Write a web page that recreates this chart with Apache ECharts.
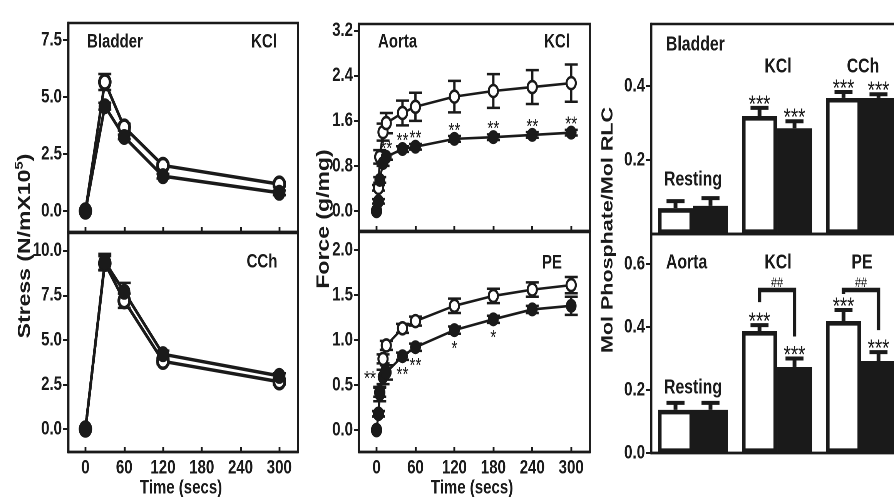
<!DOCTYPE html>
<html>
<head>
<meta charset="utf-8">
<script src="https://cdn.jsdelivr.net/npm/echarts@6.0.0/dist/echarts.min.js"></script>
<style>
  html, body { margin: 0; padding: 0; background: #fff; }
  #wrap { width: 894px; height: 497px; overflow: hidden; }
  /* the figure is horizontally squeezed: draw wide, then compress */
  #chart { width: 1161px; height: 497px; transform: scaleX(0.77); transform-origin: 0 0; }
</style>
</head>
<body>
<div id="wrap"><div id="chart"></div></div>
<script>
// ---------- data ----------
const timeTicks = [0, 60, 120, 180, 240, 300];

// Bladder stress (N/m x 10^5)
const bladderTime = [0, 30, 60, 120, 300];
const bladderKclOpen = [0, 5.66, 3.68, 2.0, 1.18];
const bladderKclOpenErr = [0, 0.35, 0.15, 0.1, 0.1];
const bladderKclFilled = [0, 4.6, 3.25, 1.53, 0.8];
const bladderKclFilledErr = [0, 0.15, 0.1, 0.1, 0.1];
const bladderCchOpen = [0, 9.3, 7.2, 3.8, 2.65];
const bladderCchOpenErr = [0, 0.4, 0.4, 0.15, 0.15];
const bladderCchFilled = [0, 9.38, 7.7, 4.2, 2.98];
const bladderCchFilledErr = [0, 0.45, 0.5, 0.2, 0.15];
const stressKclTicks = [0, 2.5, 5, 7.5];
const stressCchTicks = [0, 2.5, 5, 7.5, 10];

// Aorta force (g/mg)
const aortaTime = [0, 3, 5, 10, 15, 40, 60, 120, 180, 240, 300];
const aortaKclOpen = [0, 0.41, 0.96, 1.4, 1.56, 1.74, 1.85, 2.03, 2.13, 2.2, 2.27];
const aortaKclOpenErr = [0, 0.05, 0.12, 0.15, 0.18, 0.22, 0.25, 0.28, 0.3, 0.3, 0.33];
const aortaKclFilled = [0, 0.17, 0.55, 0.85, 0.96, 1.1, 1.14, 1.28, 1.31, 1.35, 1.39];
const aortaKclFilledErr = [0, 0.04, 0.05, 0.05, 0.05, 0.05, 0.05, 0.05, 0.05, 0.05, 0.05];
const aortaKclStars = ['', '', '', '', '**', '**', '**', '**', '**', '**', '**'];
const aortaPeOpen = [0, 0.18, 0.42, 0.79, 0.94, 1.13, 1.21, 1.38, 1.49, 1.56, 1.61];
const aortaPeOpenErr = [0, 0.03, 0.05, 0.05, 0.05, 0.05, 0.05, 0.08, 0.08, 0.08, 0.09];
const aortaPeFilled = [0, 0.18, 0.4, 0.59, 0.64, 0.82, 0.92, 1.11, 1.23, 1.34, 1.38];
const aortaPeFilledErr = [0, 0.03, 0.08, 0.08, 0.08, 0.04, 0.04, 0.04, 0.04, 0.04, 0.1];
const aortaPeStars = ['', '', '', '**', '', '**', '**', '*', '*', '', ''];
const forceKclTicks = [0, 0.8, 1.6, 2.4, 3.2];
const forcePeTicks = [0, 0.5, 1.0, 1.5, 2.0];

// Mol phosphate / mol RLC
const bladderStim = ['Resting', 'KCl', 'CCh'];
const bladderWhite = [0.07, 0.319, 0.368];
const bladderWhiteErr = [0.019, 0.022, 0.016];
const bladderBlack = [0.076, 0.286, 0.368];
const bladderBlackErr = [0.021, 0.019, 0.01];
const bladderWhiteStars = ['', '***', '***'];
const bladderBlackStars = ['', '***', '***'];
const aortaStim = ['Resting', 'KCl', 'PE'];
const aortaWhite = [0.137, 0.387, 0.419];
const aortaWhiteErr = [0.022, 0.019, 0.035];
const aortaBlack = [0.137, 0.273, 0.292];
const aortaBlackErr = [0.022, 0.027, 0.028];
const aortaWhiteStars = ['', '***', '***'];
const aortaBlackStars = ['', '***', '***'];
const aortaPairMarks = ['', '##', '##'];
const phosBladderTicks = [0.2, 0.4];
const phosAortaTicks = [0, 0.2, 0.4, 0.6];

// ---------- styling ----------
const SX = 0.77;                 // horizontal squeeze applied by CSS
const X = v => v / SX;           // page px -> chart px (horizontal)
const INK = '#1a1a1a';
const FONT = "'Liberation Sans', Arial, sans-serif";
const BAR_W = X(35);

function grid(left, top, width, height) {
  return { left: X(left), top, width: X(width), height, show: true, borderColor: INK, borderWidth: 2.4,
           backgroundColor: 'transparent', outerBoundsMode: 'none' };
}

function timeAxis(gi, labels) {
  return {
    type: 'value', gridIndex: gi, min: -27, max: 329,
    splitLine: { show: false },
    axisLine: { show: true, onZero: false, lineStyle: { color: INK, width: 2.4 } },
    axisTick: { show: true, inside: true, length: 5, customValues: timeTicks, lineStyle: { color: INK, width: 2.4 } },
    axisLabel: { show: labels, customValues: timeTicks, margin: 6, color: INK,
                 fontFamily: FONT, fontWeight: 'bold', fontSize: 19.5 }
  };
}

function valAxis(gi, min, max, ticks) {
  return {
    type: 'value', gridIndex: gi, min, max,
    splitLine: { show: false },
    axisLine: { show: true, onZero: false, lineStyle: { color: INK, width: 2.4 } },
    axisTick: { show: true, inside: false, length: X(5), customValues: ticks, lineStyle: { color: INK, width: 2 } },
    axisLabel: { customValues: ticks, formatter: v => v.toFixed(1), margin: X(6), color: INK,
                 fontFamily: FONT, fontWeight: 'bold', fontSize: 19.5 }
  };
}

function catAxis(gi, cats) {
  return {
    type: 'category', gridIndex: gi, data: cats,
    axisLine: { show: true, onZero: false, lineStyle: { color: INK, width: 2.4 } },
    axisTick: { show: false }, axisLabel: { show: false }
  };
}

function lineSeries(ai, times, vals, open, size, width) {
  return {
    type: 'line', xAxisIndex: ai, yAxisIndex: ai, z: 3, silent: true,
    data: times.map((t, i) => [t, vals[i]]),
    symbol: 'circle', symbolSize: size, showSymbol: true,
    lineStyle: { color: INK, width },
    itemStyle: { color: open ? '#fff' : INK, borderColor: INK, borderWidth: open ? width : 0, opacity: 1 },
    emphasis: { disabled: true }
  };
}

function errSeries(ai, times, vals, errs, cap, width) {
  return {
    type: 'custom', xAxisIndex: ai, yAxisIndex: ai, z: 2, silent: true,
    data: times.map((t, i) => [t, vals[i], errs[i]]),
    renderItem(params, api) {
      const x = api.value(0), v = api.value(1), e = api.value(2);
      if (!e) return { type: 'group', children: [] };
      const hi = api.coord([x, v + e]), lo = api.coord([x, v - e]);
      const st = { stroke: INK, lineWidth: width };
      return { type: 'group', children: [
        { type: 'line', shape: { x1: hi[0], y1: hi[1], x2: lo[0], y2: lo[1] }, style: { stroke: INK, lineWidth: width * 1.2 } },
        { type: 'line', shape: { x1: hi[0] - cap, y1: hi[1], x2: hi[0] + cap, y2: hi[1] }, style: st },
        { type: 'line', shape: { x1: lo[0] - cap, y1: lo[1], x2: lo[0] + cap, y2: lo[1] }, style: st }
      ] };
    }
  };
}

function starText(x, glyphY, s, size) {
  // asterisks sit high in the em box; shift the box so the glyph centre lands on glyphY
  return { type: 'text', x, y: glyphY + size * 0.22,
           style: { text: s, fill: INK, font: size + 'px ' + FONT, align: 'center', verticalAlign: 'middle' } };
}

function starSeries(ai, times, base, stars, place) {
  return {
    type: 'custom', xAxisIndex: ai, yAxisIndex: ai, z: 2, silent: true,
    data: times.map((t, i) => [t, base[i]]),
    renderItem(params, api) {
      const i = params.dataIndex;
      if (!stars[i]) return { type: 'group', children: [] };
      const p = api.coord([api.value(0), api.value(1)]);
      const d = place(i);
      return starText(p[0] + X(d[0]), p[1] + d[1], stars[i], 20);
    }
  };
}

function barSeries(ai, vals, white) {
  return {
    type: 'bar', xAxisIndex: ai, yAxisIndex: ai, z: 2, silent: true,
    data: vals, barWidth: BAR_W, barGap: '0%',
    itemStyle: white ? { color: '#fff', borderColor: INK, borderWidth: 4.6 } : { color: INK },
    emphasis: { disabled: true }
  };
}

function barExtras(ai, white, whiteErr, black, blackErr, whiteStars, blackStars, pairMarks) {
  return {
    type: 'custom', xAxisIndex: ai, yAxisIndex: ai, z: 4, silent: true,
    data: white.map((v, i) => [i, v]),
    renderItem(params, api) {
      const i = params.dataIndex;
      const c = api.coord([i, 0])[0];
      const kids = [];
      const starY = [];
      [[c - BAR_W / 2, white[i], whiteErr[i], whiteStars[i]],
       [c + BAR_W / 2, black[i], blackErr[i], blackStars[i]]].forEach(([x, v, e, s]) => {
        const top = api.coord([i, v])[1], cap = api.coord([i, v + e])[1];
        kids.push({ type: 'line', shape: { x1: x, y1: top, x2: x, y2: cap }, style: { stroke: INK, lineWidth: 5 } });
        kids.push({ type: 'line', shape: { x1: x - X(9), y1: cap, x2: x + X(9), y2: cap }, style: { stroke: INK, lineWidth: 4 } });
        if (s) kids.push(starText(x, cap - 8, s, 24));
        starY.push(cap - 8);
      });
      if (pairMarks && pairMarks[i]) {
        // common bracket level over all marked pairs
        let level = Infinity;
        pairMarks.forEach((m, j) => {
          if (m) level = Math.min(level, api.coord([j, white[j] + whiteErr[j]])[1] - 8 - 12);
        });
        const xl = c - BAR_W / 2, xr = c + BAR_W / 2;
        const yl = Math.max(level + 4, starY[0] - 15), yr = Math.max(level + 4, starY[1] - 14);
        kids.push({ type: 'polyline', shape: { points: [[xl, yl], [xl, level], [xr, level], [xr, yr]] },
                    style: { stroke: INK, lineWidth: 4.5, fill: null, lineJoin: 'miter' } });
        kids.push({ type: 'text', x: c, y: level - 7,
                    style: { text: pairMarks[i], fill: INK, font: '14px ' + FONT, align: 'center', verticalAlign: 'middle' } });
      }
      return { type: 'group', children: kids };
    }
  };
}

function label(text, x, y, size, align) {
  return { type: 'text', x: X(x), y, silent: true,
           style: { text, fill: INK, font: 'bold ' + size + 'px ' + FONT, align: align || 'center', verticalAlign: 'middle' } };
}

function vTitle(text, x, y, size, rich) {
  return { type: 'text', x: X(x), y, rotation: Math.PI / 2, silent: true,
           style: { text, fill: INK, font: 'bold ' + size + 'px ' + FONT, align: 'center', verticalAlign: 'middle', rich } };
}

// ---------- chart ----------
const chart = echarts.init(document.getElementById('chart'), null, { renderer: 'canvas', devicePixelRatio: 2 });

const option = {
  animation: false,
  backgroundColor: '#fff',
  grid: [
    grid(68, 23, 230, 209), grid(68, 233, 230, 219),
    grid(359, 24, 231, 207), grid(359, 232, 231, 220),
    grid(651, 24, 252, 210), grid(651, 234, 252, 219)
  ],
  xAxis: [
    timeAxis(0, false), timeAxis(1, true), timeAxis(2, false), timeAxis(3, true),
    catAxis(4, bladderStim), catAxis(5, aortaStim)
  ],
  yAxis: [
    valAxis(0, -0.92, 8.25, stressKclTicks), valAxis(1, -1.29, 11.0, stressCchTicks),
    valAxis(2, -0.356, 3.32, forceKclTicks), valAxis(3, -0.244, 2.2, forcePeTicks),
    valAxis(4, 0, 0.568, phosBladderTicks), valAxis(5, 0, 0.695, phosAortaTicks)
  ],
  series: [
    // bladder KCl
    errSeries(0, bladderTime, bladderKclOpen, bladderKclOpenErr, X(6.5), 2.5),
    errSeries(0, bladderTime, bladderKclFilled, bladderKclFilledErr, X(6.5), 2.5),
    lineSeries(0, bladderTime, bladderKclOpen, true, 14, 3.5),
    lineSeries(0, bladderTime, bladderKclFilled, false, 16, 3.5),
    // bladder CCh
    errSeries(1, bladderTime, bladderCchOpen, bladderCchOpenErr, X(6.5), 2.5),
    errSeries(1, bladderTime, bladderCchFilled, bladderCchFilledErr, X(6.5), 2.5),
    lineSeries(1, bladderTime, bladderCchOpen, true, 14, 3.5),
    lineSeries(1, bladderTime, bladderCchFilled, false, 16, 3.5),
    // aorta KCl
    errSeries(2, aortaTime, aortaKclOpen, aortaKclOpenErr, X(6.5), 2.5),
    errSeries(2, aortaTime, aortaKclFilled, aortaKclFilledErr, X(6.5), 2.5),
    starSeries(2, aortaTime, aortaKclFilled, aortaKclStars, () => [0, -12]),
    lineSeries(2, aortaTime, aortaKclOpen, true, 12, 2.6),
    lineSeries(2, aortaTime, aortaKclFilled, false, 14, 2.6),
    // aorta PE
    errSeries(3, aortaTime, aortaPeOpen, aortaPeOpenErr, X(6.5), 2.5),
    errSeries(3, aortaTime, aortaPeFilled, aortaPeFilledErr, X(6.5), 2.5),
    starSeries(3, aortaTime, aortaPeFilled, aortaPeStars, i => (i === 3 ? [-13, -2] : [0, 15])),
    lineSeries(3, aortaTime, aortaPeOpen, true, 12, 2.6),
    lineSeries(3, aortaTime, aortaPeFilled, false, 14, 2.6),
    // bladder phosphorylation
    barSeries(4, bladderWhite, true), barSeries(4, bladderBlack, false),
    barExtras(4, bladderWhite, bladderWhiteErr, bladderBlack, bladderBlackErr, bladderWhiteStars, bladderBlackStars, null),
    // aorta phosphorylation
    barSeries(5, aortaWhite, true), barSeries(5, aortaBlack, false),
    barExtras(5, aortaWhite, aortaWhiteErr, aortaBlack, aortaBlackErr, aortaWhiteStars, aortaBlackStars, aortaPairMarks)
  ],
  graphic: [
    label('Bladder', 87, 42, 19.5, 'left'), label('KCl', 264, 42, 19.5), label('CCh', 262, 262, 19.5),
    label('Aorta', 378, 42, 19.5, 'left'), label('KCl', 557, 42, 19.5), label('PE', 552, 263, 19.5),
    label('Bladder', 666, 45, 20.5, 'left'), label('KCl', 778, 67, 20.5), label('CCh', 863, 67, 20.5),
    label('Resting', 693, 180, 20.5),
    label('Aorta', 666, 263, 20.5, 'left'), label('KCl', 778, 263, 20.5), label('PE', 862, 263, 20.5),
    label('Resting', 693, 388, 20.5),
    label('Time (secs)', 181, 488, 19.5), label('Time (secs)', 472, 488, 19.5),
    vTitle('{a|Stress (N/mX10}{s|5}{a|)}', 25, 246, 23, {
      a: { font: 'bold 23px ' + FONT, fill: INK },
      s: { font: 'bold 15px ' + FONT, fill: INK, padding: [0, 0, 14, 0] }
    }),
    vTitle('Force (g/mg)', 324, 219, 23),
    vTitle('Mol Phosphate/Mol RLC', 608, 230, 21.5)
  ]
};

chart.setOption(option);
</script>
</body>
</html>
